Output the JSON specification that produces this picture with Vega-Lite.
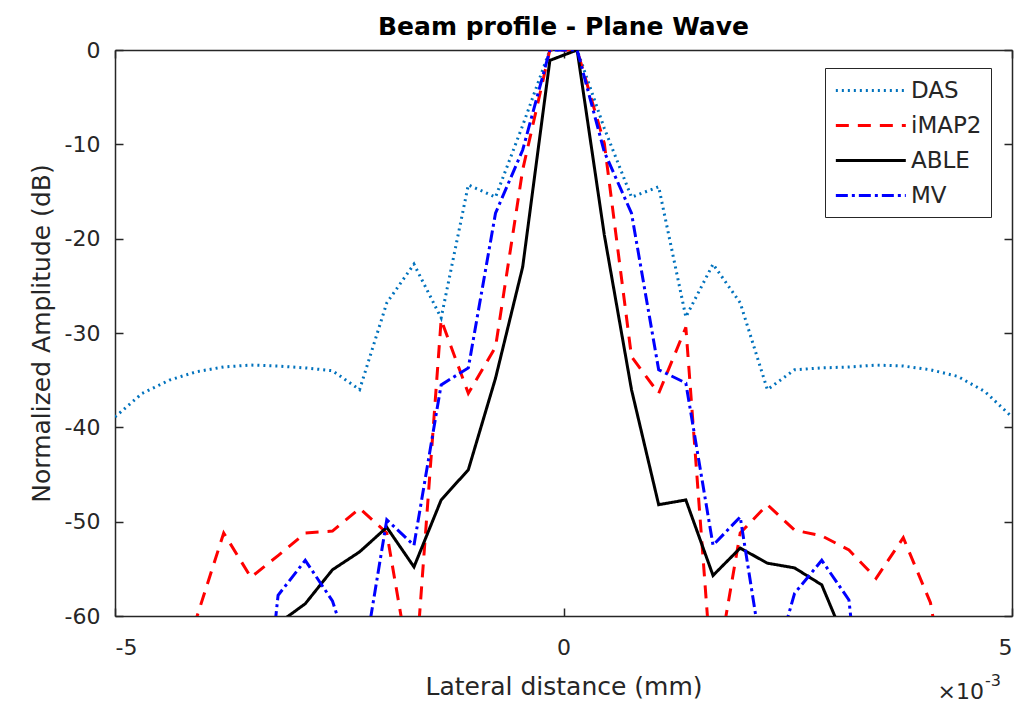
{
  "$schema": "https://vega.github.io/schema/vega-lite/v6.json",
  "width": 897,
  "height": 566,
  "autosize": "none",
  "padding": {"left": 115, "top": 50, "right": 6, "bottom": 91},
  "background": "white",
  "title": {"text": "Beam profile - Plane Wave", "font": "DejaVu Sans", "fontSize": 25, "fontWeight": "bold", "color": "#000000", "offset": -1},
  "config": {
    "view": {"stroke": null},
    "axis": {"domainColor": "#262626", "tickColor": "#262626", "labelColor": "#262626", "titleColor": "#262626", "labelFont": "DejaVu Sans", "titleFont": "DejaVu Sans", "labelFontSize": 22, "titleFontSize": 25, "titleFontWeight": "normal", "grid": false, "tickSize": -8, "domainWidth": 1.5, "tickWidth": 1.5}
  },
  "data": {"values": [
    {"s":"DAS","x":-5.000,"y":-38.9},{"s":"DAS","x":-4.697,"y":-36.4},{"s":"DAS","x":-4.394,"y":-35.0},{"s":"DAS","x":-4.091,"y":-34.1},{"s":"DAS","x":-3.788,"y":-33.6},{"s":"DAS","x":-3.485,"y":-33.4},{"s":"DAS","x":-3.182,"y":-33.5},{"s":"DAS","x":-2.879,"y":-33.7},{"s":"DAS","x":-2.576,"y":-34.0},{"s":"DAS","x":-2.273,"y":-36.0},{"s":"DAS","x":-1.970,"y":-26.8},{"s":"DAS","x":-1.667,"y":-22.7},{"s":"DAS","x":-1.364,"y":-28.4},{"s":"DAS","x":-1.061,"y":-14.3},{"s":"DAS","x":-0.758,"y":-15.6},{"s":"DAS","x":-0.455,"y":-8.0},{"s":"DAS","x":-0.152,"y":0},{"s":"DAS","x":0.152,"y":0},{"s":"DAS","x":0.455,"y":-8.3},{"s":"DAS","x":0.758,"y":-15.6},{"s":"DAS","x":1.061,"y":-14.5},{"s":"DAS","x":1.364,"y":-28.3},{"s":"DAS","x":1.667,"y":-22.7},{"s":"DAS","x":1.970,"y":-26.8},{"s":"DAS","x":2.273,"y":-36.0},{"s":"DAS","x":2.576,"y":-33.9},{"s":"DAS","x":2.879,"y":-33.7},{"s":"DAS","x":3.182,"y":-33.6},{"s":"DAS","x":3.485,"y":-33.4},{"s":"DAS","x":3.788,"y":-33.5},{"s":"DAS","x":4.091,"y":-33.9},{"s":"DAS","x":4.394,"y":-34.6},{"s":"DAS","x":4.697,"y":-36.2},{"s":"DAS","x":5.000,"y":-38.9},
    {"s":"iMAP2","x":-4.394,"y":-70},{"s":"iMAP2","x":-4.091,"y":-60.2},{"s":"iMAP2","x":-3.788,"y":-51.2},{"s":"iMAP2","x":-3.485,"y":-55.9},{"s":"iMAP2","x":-3.182,"y":-53.6},{"s":"iMAP2","x":-2.879,"y":-51.2},{"s":"iMAP2","x":-2.576,"y":-51.0},{"s":"iMAP2","x":-2.273,"y":-48.6},{"s":"iMAP2","x":-1.970,"y":-51.2},{"s":"iMAP2","x":-1.667,"y":-68},{"s":"iMAP2","x":-1.364,"y":-28.6},{"s":"iMAP2","x":-1.061,"y":-36.4},{"s":"iMAP2","x":-0.758,"y":-31.5},{"s":"iMAP2","x":-0.455,"y":-12.7},{"s":"iMAP2","x":-0.152,"y":0},{"s":"iMAP2","x":0.152,"y":0},{"s":"iMAP2","x":0.455,"y":-9.9},{"s":"iMAP2","x":0.758,"y":-32.5},{"s":"iMAP2","x":1.061,"y":-36.4},{"s":"iMAP2","x":1.364,"y":-29.4},{"s":"iMAP2","x":1.667,"y":-68},{"s":"iMAP2","x":1.970,"y":-51.2},{"s":"iMAP2","x":2.273,"y":-48.2},{"s":"iMAP2","x":2.576,"y":-50.9},{"s":"iMAP2","x":2.879,"y":-51.5},{"s":"iMAP2","x":3.182,"y":-53.0},{"s":"iMAP2","x":3.485,"y":-56.0},{"s":"iMAP2","x":3.788,"y":-51.7},{"s":"iMAP2","x":4.091,"y":-58.6},{"s":"iMAP2","x":4.394,"y":-75},
    {"s":"ABLE","x":-3.182,"y":-60.8},{"s":"ABLE","x":-2.879,"y":-58.7},{"s":"ABLE","x":-2.576,"y":-55.1},{"s":"ABLE","x":-2.273,"y":-53.2},{"s":"ABLE","x":-1.970,"y":-50.6},{"s":"ABLE","x":-1.667,"y":-54.8},{"s":"ABLE","x":-1.364,"y":-47.7},{"s":"ABLE","x":-1.061,"y":-44.5},{"s":"ABLE","x":-0.758,"y":-34.8},{"s":"ABLE","x":-0.455,"y":-23.0},{"s":"ABLE","x":-0.152,"y":-1.1},{"s":"ABLE","x":0.152,"y":0},{"s":"ABLE","x":0.455,"y":-19.6},{"s":"ABLE","x":0.758,"y":-36.0},{"s":"ABLE","x":1.061,"y":-48.2},{"s":"ABLE","x":1.364,"y":-47.7},{"s":"ABLE","x":1.667,"y":-55.7},{"s":"ABLE","x":1.970,"y":-52.8},{"s":"ABLE","x":2.273,"y":-54.4},{"s":"ABLE","x":2.576,"y":-54.9},{"s":"ABLE","x":2.879,"y":-56.7},{"s":"ABLE","x":3.182,"y":-63.6},
    {"s":"MV","x":-3.485,"y":-85},{"s":"MV","x":-3.182,"y":-57.8},{"s":"MV","x":-2.879,"y":-54.1},{"s":"MV","x":-2.576,"y":-58.4},{"s":"MV","x":-2.273,"y":-67.3},{"s":"MV","x":-1.970,"y":-49.8},{"s":"MV","x":-1.667,"y":-52.5},{"s":"MV","x":-1.364,"y":-35.5},{"s":"MV","x":-1.061,"y":-33.7},{"s":"MV","x":-0.758,"y":-17.3},{"s":"MV","x":-0.455,"y":-10.6},{"s":"MV","x":-0.152,"y":0},{"s":"MV","x":0.152,"y":0},{"s":"MV","x":0.455,"y":-10.8},{"s":"MV","x":0.758,"y":-17.3},{"s":"MV","x":1.061,"y":-33.9},{"s":"MV","x":1.364,"y":-35.3},{"s":"MV","x":1.667,"y":-52.5},{"s":"MV","x":1.970,"y":-49.5},{"s":"MV","x":2.273,"y":-67.8},{"s":"MV","x":2.576,"y":-57.6},{"s":"MV","x":2.879,"y":-54.1},{"s":"MV","x":3.182,"y":-58.3},{"s":"MV","x":3.485,"y":-85}
  ]},
  "layer": [
    {
      "mark": {"type": "line", "clip": true, "strokeWidth": 3, "strokeCap": "butt"},
      "encoding": {
        "x": {"field": "x", "type": "quantitative", "scale": {"domain": [-5, 5], "nice": false, "zero": false}, "axis": {"orient": "bottom", "values": [-5, 0, 5], "labelExpr": "'' + datum.value", "title": "Lateral distance (mm)", "labelPadding": 29, "titlePadding": 16}},
        "y": {"field": "y", "type": "quantitative", "scale": {"domain": [-60, 0], "nice": false, "zero": false}, "axis": {"orient": "left", "values": [-60, -50, -40, -30, -20, -10, 0], "labelExpr": "'' + datum.value", "title": "Normalized Amplitude (dB)", "labelPadding": 23, "titlePadding": 10}},
        "color": {"field": "s", "type": "nominal", "scale": {"domain": ["DAS", "iMAP2", "ABLE", "MV"], "range": ["#0072BD", "#FF0000", "#000000", "#0000FF"]}, "legend": {"title": null, "orient": "none", "legendX": 710, "legendY": 18, "strokeColor": "#262626", "fillColor": "white", "padding": 9, "symbolType": "M-1,0H5", "symbolSize": 544, "symbolStrokeWidth": 3, "labelFont": "DejaVu Sans", "labelFontSize": 23, "labelColor": "#262626", "labelOffset": 50, "rowPadding": 9}},
        "strokeDash": {"field": "s", "type": "nominal", "scale": {"domain": ["DAS", "iMAP2", "ABLE", "MV"], "range": [[2, 4], [13, 9], [1, 0], [12, 4, 3, 4]]}, "legend": {"title": null}},
        "order": {"field": "x", "type": "quantitative"}
      }
    },
    {
      "mark": {"type": "line", "opacity": 0},
      "encoding": {
        "x": {"field": "x", "type": "quantitative", "axis": {"orient": "top", "values": [-5, 0, 5], "labels": false, "title": null}},
        "y": {"field": "y", "type": "quantitative", "axis": {"orient": "right", "values": [-60, -50, -40, -30, -20, -10, 0], "labels": false, "title": null}},
        "detail": {"field": "s"}
      }
    },
    {
      "data": {"values": [{"t": "×10", "e": "-3"}]},
      "layer": [
        {
          "mark": {"type": "text", "align": "right", "baseline": "middle", "dx": -28, "dy": 76, "font": "DejaVu Sans", "fontSize": 22, "color": "#262626"},
          "encoding": {
            "x": {"datum": 5, "type": "quantitative", "axis": null},
            "y": {"datum": -60, "type": "quantitative", "axis": null},
            "text": {"field": "t"}
          }
        },
        {
          "mark": {"type": "text", "align": "left", "baseline": "middle", "dx": -27, "dy": 65, "font": "DejaVu Sans", "fontSize": 16, "color": "#262626"},
          "encoding": {
            "x": {"datum": 5, "type": "quantitative", "axis": null},
            "y": {"datum": -60, "type": "quantitative", "axis": null},
            "text": {"field": "e"}
          }
        }
      ]
    }
  ],
  "resolve": {"axis": {"x": "independent", "y": "independent"}}
}
